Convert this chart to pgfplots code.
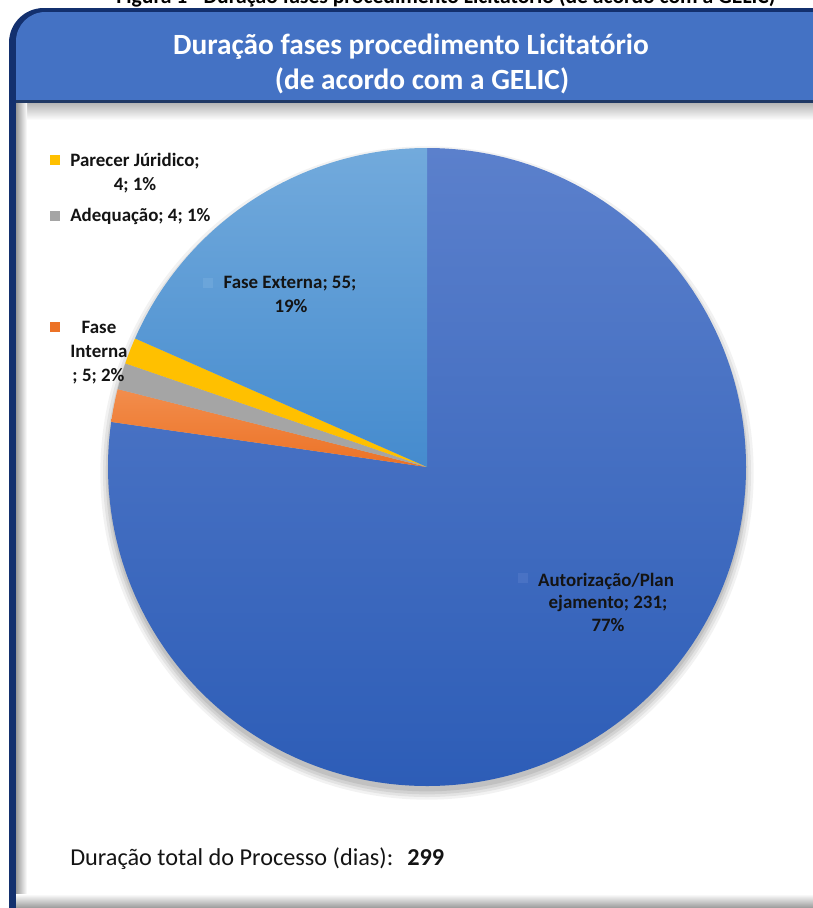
\documentclass[border=0pt]{standalone}
\usepackage{pgfplots}
\pgfplotsset{compat=1.18}
\usepackage{fontspec}
\setmainfont{Carlito}
\definecolor{navy}{HTML}{13306E}
\definecolor{navyline}{HTML}{1F3864}
\definecolor{headblue}{HTML}{4472C4}
\definecolor{bigtop}{HTML}{5B80CC}
\definecolor{bigbot}{HTML}{2D5DB7}
\definecolor{exttop}{HTML}{72AADC}
\definecolor{extbot}{HTML}{458BCE}
\definecolor{orangeA}{HTML}{F28D4C}
\definecolor{orangeB}{HTML}{EC7226}
\definecolor{grayS}{HTML}{A5A5A5}
\definecolor{yellowS}{HTML}{FFC000}
\definecolor{lab}{HTML}{141414}
% values (days)
\def\vAut{231}\def\vInt{5}\def\vAde{4}\def\vPar{4}\def\vExt{55}\def\vTot{299}
\newcommand{\labfont}{\fontsize{14.2}{16}\selectfont\bfseries}
\begin{document}
\begin{tikzpicture}
\begin{axis}[scale only axis, width=609.75pt, height=681pt,
  xmin=0, xmax=813, ymin=0, ymax=908, y dir=reverse,
  hide axis, clip=false]
\coordinate (TL) at (axis cs:0,0);
\coordinate (BR) at (axis cs:813,908);
% caption (cut off at the top)
\node[anchor=base, font=\fontsize{16.2}{18}\selectfont\bfseries] at (axis cs:446,3.5)
  {Figura 1 - Duração fases procedimento Licitatório (de acordo com a GELIC)};
% frame
\fill[navy, rounded corners=26pt] (axis cs:9,960) -- (axis cs:9,8) -- (axis cs:900,8) -- (axis cs:900,960) -- cycle;
\fill[white] (axis cs:16,101) rectangle (axis cs:813,900);
\fill[headblue] (axis cs:16,101) [rounded corners=22pt] -- (axis cs:16,12) -- (axis cs:900,12) [sharp corners] -- (axis cs:900,101) -- cycle;
\fill[navyline] (axis cs:16,100) rectangle (axis cs:813,103.5);
\shade[top color=black!28, bottom color=white] (axis cs:16,103.5) rectangle (axis cs:813,120);
\shade[left color=black!40, right color=white] (axis cs:16,103.5) rectangle (axis cs:27,900);
\shade[top color=white, bottom color=black!40] (axis cs:16,894) rectangle (axis cs:813,908);
% header title
\node[anchor=base, text=white, font=\fontsize{22}{26}\selectfont\bfseries] at (axis cs:411,54) {Duração fases procedimento Licitatório};
\node[anchor=base, text=white, font=\fontsize{22}{26}\selectfont\bfseries] at (axis cs:422,89) {(de acordo com a GELIC)};
% pie shadow
\fill[black, opacity=0.05] (axis cs:427,473) circle[radius=245pt];
\fill[black, opacity=0.06] (axis cs:427,473) circle[radius=243pt];
\fill[black, opacity=0.07] (axis cs:427,473) circle[radius=241pt];
\fill[black, opacity=0.08] (axis cs:427,472) circle[radius=239.5pt];
% pie slices (clockwise from 12 o'clock)
\shade[top color=bigtop, bottom color=bigbot] (axis cs:427,467) -- ++(90:239.25pt)
  arc[start angle=90, end angle={90-\vAut/\vTot*360}, radius=239.25pt] -- cycle;
\shade[top color=orangeA, bottom color=orangeB] (axis cs:427,467) -- ++({90-\vAut/\vTot*360}:239.25pt)
  arc[start angle={90-\vAut/\vTot*360}, end angle={90-(\vAut+\vInt)/\vTot*360}, radius=239.25pt] -- cycle;
\fill[grayS] (axis cs:427,467) -- ++({90-(\vAut+\vInt)/\vTot*360}:239.25pt)
  arc[start angle={90-(\vAut+\vInt)/\vTot*360}, end angle={90-(\vAut+\vInt+\vAde)/\vTot*360}, radius=239.25pt] -- cycle;
\fill[yellowS] (axis cs:427,467) -- ++({90-(\vAut+\vInt+\vAde)/\vTot*360}:239.25pt)
  arc[start angle={90-(\vAut+\vInt+\vAde)/\vTot*360}, end angle={90-(\vAut+\vInt+\vAde+\vPar)/\vTot*360}, radius=239.25pt] -- cycle;
\shade[top color=exttop, bottom color=extbot] (axis cs:427,467) -- ++({90-(\vAut+\vInt+\vAde+\vPar)/\vTot*360}:239.25pt)
  arc[start angle={90-(\vAut+\vInt+\vAde+\vPar)/\vTot*360}, end angle=-270, radius=239.25pt] -- cycle;
% data labels
\fill[yellowS] (axis cs:50,155) rectangle (axis cs:60,165);
\node[anchor=base, text=lab, font=\labfont] at (axis cs:135,166) {Parecer Júridico;};
\node[anchor=base, text=lab, font=\labfont] at (axis cs:135,190) {4; 1\%};
\fill[grayS] (axis cs:50,211) rectangle (axis cs:60,221);
\node[anchor=base west, text=lab, font=\labfont, inner sep=0pt] at (axis cs:70,221.5) {Adequação; 4; 1\%};
\fill[orangeB] (axis cs:50,322) rectangle (axis cs:60,332);
\node[anchor=base, text=lab, font=\labfont] at (axis cs:99,333) {Fase};
\node[anchor=base, text=lab, font=\labfont] at (axis cs:99,357) {Interna};
\node[anchor=base, text=lab, font=\labfont] at (axis cs:98.5,381) {; 5; 2\%};
\fill[exttop!85!extbot] (axis cs:203,278) rectangle (axis cs:213,288);
\node[anchor=base, text=lab, font=\labfont] at (axis cs:290,288) {Fase Externa; 55;};
\node[anchor=base, text=lab, font=\labfont] at (axis cs:291,312) {19\%};
\fill[bigtop!60!bigbot] (axis cs:518,573) rectangle (axis cs:528,583);
\node[anchor=base, text=lab, font=\labfont] at (axis cs:606,586) {Autorização/Plan};
\node[anchor=base, text=lab, font=\labfont] at (axis cs:608,608.5) {ejamento; 231;};
\node[anchor=base, text=lab, font=\labfont] at (axis cs:608,631.5) {77\%};
% footer
\node[anchor=base west, inner sep=0pt, text=lab, font=\fontsize{18.2}{21}\selectfont] at (axis cs:70,865) {Duração total do Processo (dias):};
\node[anchor=base west, inner sep=0pt, text=lab, font=\fontsize{18.2}{21}\selectfont\bfseries] at (axis cs:407,865) {299};
\end{axis}
\pgfresetboundingbox
\path[use as bounding box] (TL) rectangle (BR);
\end{tikzpicture}
\end{document}
